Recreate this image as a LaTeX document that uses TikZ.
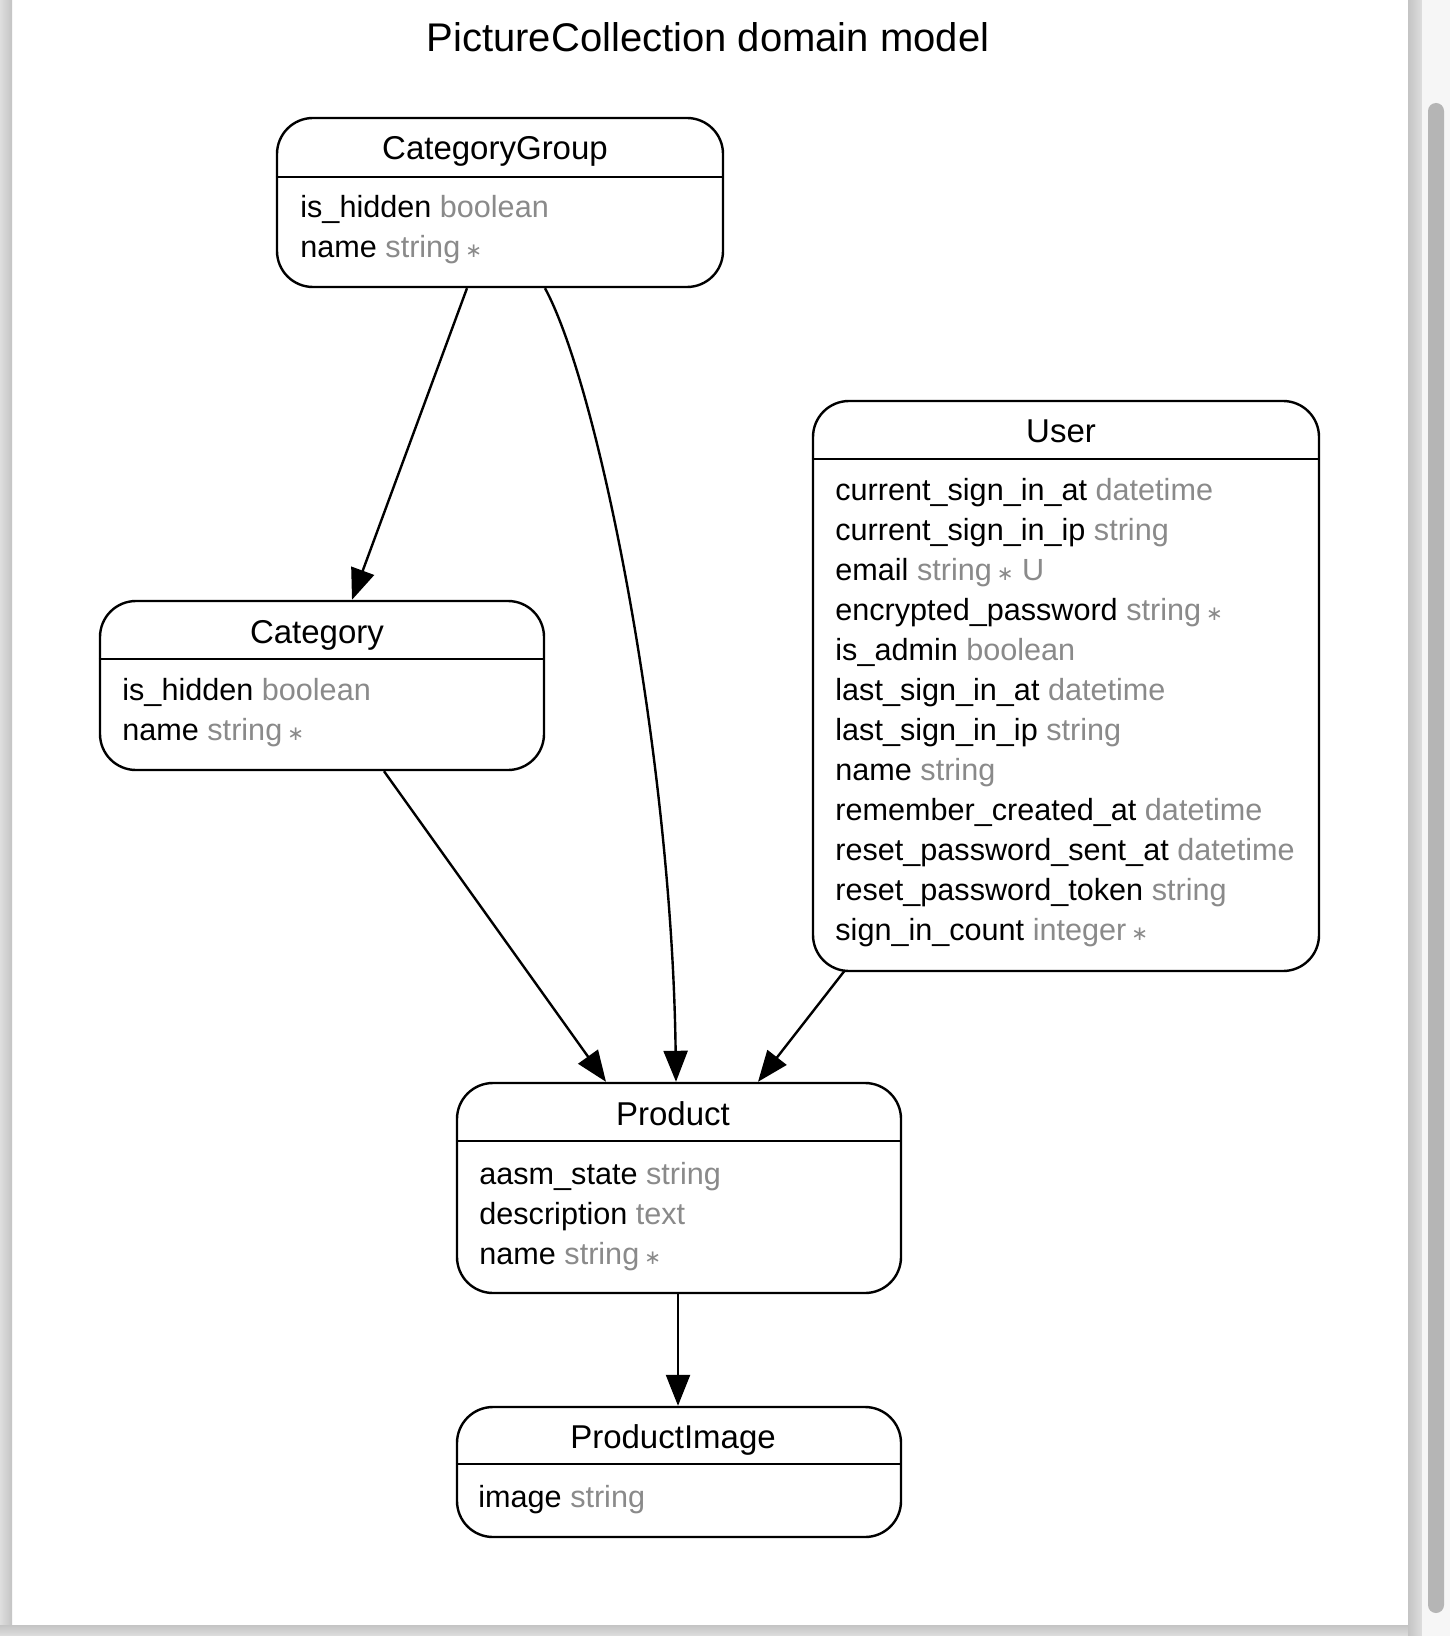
\documentclass[tikz,border=0pt]{standalone}
\usepackage{fontspec}
\setmainfont{Liberation Sans}
\newfontfamily\symfont{DejaVu Sans}
\usetikzlibrary{arrows.meta,calc}
\definecolor{tgray}{RGB}{138,138,138}
\definecolor{frameA}{RGB}{196,196,196}
\definecolor{frameB}{RGB}{222,222,222}
\definecolor{frameL}{RGB}{246,246,246}
\definecolor{thumb}{RGB}{181,181,181}
\newcommand\fld[2]{#1 \textcolor{tgray}{#2}}
\newcommand\req{\,{\color{tgray}\symfont\fontsize{10}{10}\selectfont ∗}}
\begin{document}
\begin{tikzpicture}[x=0.5pt,y=-0.5pt,
  entity/.style={draw, line width=1.2pt, rounded corners=18pt, inner sep=0pt, fill=white},
  hdr/.style={line width=1.2pt},
  ttl/.style={anchor=base, inner sep=0pt, font=\fontsize{16.5}{16.5}\selectfont},
  row/.style={anchor=base west, inner sep=0pt, font=\fontsize{15.3}{15.3}\selectfont},
  rel/.style={line width=1.2pt, -{Triangle[length=15.5pt,width=12pt]}}]
\useasboundingbox (0,0) rectangle (1450,1636);
% window frame
\fill[white] (0,0) rectangle (1450,1636);
\shade[left color=frameB, right color=frameA] (0,0) rectangle (12,1636);
\shade[top color=frameA, bottom color=frameB] (0,1625) rectangle (1422,1636);
\shade[left color=frameA, right color=frameB] (1408,0) rectangle (1422,1636);
\fill[frameL] (1422,0) rectangle (1450,1636);
\fill[thumb, rounded corners=4pt] (1428,103) rectangle (1444,1613);
% title
\node[anchor=base, inner sep=0pt, font=\fontsize{20}{20}\selectfont] (title) at (708,52) {PictureCollection domain model};
% CategoryGroup
\node[entity, minimum width=223pt, minimum height=84.5pt] (cg) at (500,202.5) {};
\draw[hdr] ([yshift=-30pt]cg.north west) -- ([yshift=-30pt]cg.north east);
\node[ttl] (cg-t) at (495,160) {CategoryGroup};
\node[row] (cg-r1) at (300,218) {\fld{is\_hidden}{boolean}};
\node[row] (cg-r2) at (300,258) {\fld{name}{string}\req};
% Category
\node[entity, minimum width=222pt, minimum height=84.5pt] (cat) at (322,685.5) {};
\draw[hdr] ([yshift=-29.5pt]cat.north west) -- ([yshift=-29.5pt]cat.north east);
\node[ttl] (cat-t) at (317,643) {Category};
\node[row] (cat-r1) at (122,700) {\fld{is\_hidden}{boolean}};
\node[row] (cat-r2) at (122,740) {\fld{name}{string}\req};
% User
\node[entity, minimum width=253pt, minimum height=285pt] (user) at (1066,686) {};
\draw[hdr] ([yshift=-29.5pt]user.north west) -- ([yshift=-29.5pt]user.north east);
\node[ttl] (user-t) at (1061,443) {User};
\foreach \t [count=\i] in {
  {\fld{current\_sign\_in\_at}{datetime}},
  {\fld{current\_sign\_in\_ip}{string}},
  {\fld{email}{string}\req{} \textcolor{tgray}{U}},
  {\fld{encrypted\_password}{string}\req},
  {\fld{is\_admin}{boolean}},
  {\fld{last\_sign\_in\_at}{datetime}},
  {\fld{last\_sign\_in\_ip}{string}},
  {\fld{name}{string}},
  {\fld{remember\_created\_at}{datetime}},
  {\fld{reset\_password\_sent\_at}{datetime}},
  {\fld{reset\_password\_token}{string}},
  {\fld{sign\_in\_count}{integer}\req}}
  \node[row] (user-r\i) at (835,{460+40*\i}) {\t};
% Product
\node[entity, minimum width=222pt, minimum height=105pt] (prod) at (679,1188) {};
\draw[hdr] ([yshift=-29.5pt]prod.north west) -- ([yshift=-29.5pt]prod.north east);
\node[ttl] (prod-t) at (673,1125) {Product};
\node[row] (prod-r1) at (479,1184) {\fld{aasm\_state}{string}};
\node[row] (prod-r2) at (479,1224) {\fld{description}{text}};
\node[row] (prod-r3) at (479,1264) {\fld{name}{string}\req};
% ProductImage
\node[entity, minimum width=222pt, minimum height=65pt] (pimg) at (679,1472) {};
\draw[hdr] ([yshift=-29pt]pimg.north west) -- ([yshift=-29pt]pimg.north east);
\node[ttl] (pimg-t) at (673,1448) {ProductImage};
\node[row] (pimg-r1) at (478,1507) {\fld{image}{string}};
% relations
\draw[rel] ([xshift=-16.5pt]cg.south) -- ([xshift=15pt]cat.north);
\draw[rel] ([xshift=22.5pt]cg.south) .. controls (600,390) and (672,760) .. ([xshift=-1.5pt]prod.north);
\draw[rel] ([xshift=31pt]cat.south) -- ([xshift=-36.5pt]prod.north);
\draw[rel] ([xshift=-110.5pt,yshift=1pt]user.south) -- ([xshift=39.5pt]prod.north);
\draw[rel] ([xshift=-0.5pt]prod.south) -- ([xshift=-0.5pt]pimg.north);
\end{tikzpicture}
\end{document}
